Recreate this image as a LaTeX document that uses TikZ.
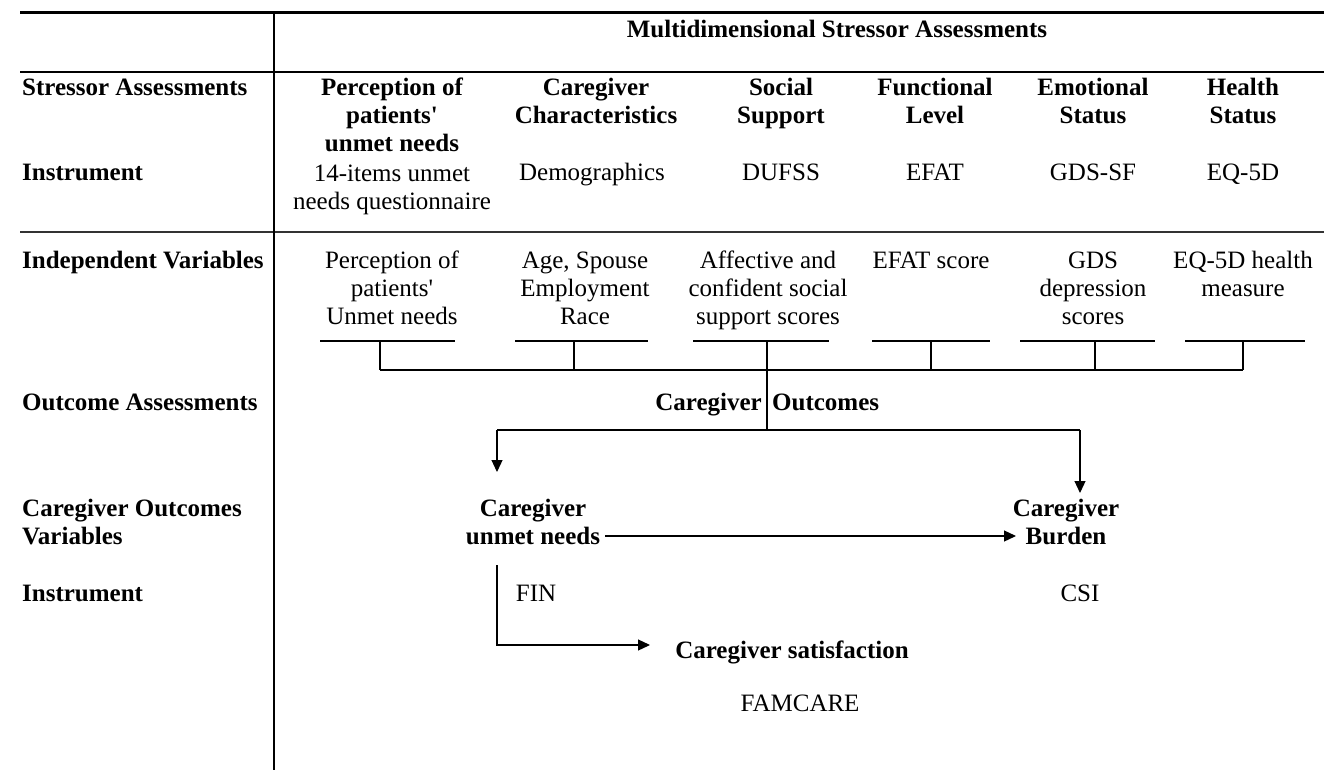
\documentclass[tikz,border=0pt]{standalone}
\usepackage{fontspec}
\setmainfont{Liberation Serif}
\newfontfamily\rawserif{Liberation Serif}[Ligatures=TeXOff]
\usetikzlibrary{arrows.meta,calc}
\newcommand{\apos}{{\rawserif'}}
\begin{document}
\begin{tikzpicture}[x=1pt,y=-1pt,
  every node/.style={inner sep=0pt, align=center, anchor=base, font=\fontsize{25}{28}\selectfont},
  hd/.style={font=\fontsize{25}{28}\selectfont\bfseries},
  rowlab/.style={anchor=base west, align=left, font=\fontsize{25}{28}\selectfont\bfseries},
  rule/.style={line width=1.2pt},
  arr/.style={line width=1.2pt, -{Triangle[length=12pt,width=11pt]}}
]
\useasboundingbox (0,0) rectangle (1324,770);
% table rules
\draw[line width=3pt] (20,13) -- (1324,13);
\draw[line width=2pt] (20,72) -- (1324,72);
\draw[line width=2.5pt, black!80] (20,232) -- (1324,232);
\draw[line width=2pt] (274,13) -- (274,770);
% heading
\node[hd] (multi) at (837,38) {Multidimensional Stressor Assessments};
% row labels
\node[rowlab] (r1) at (22,96) {Stressor Assessments};
\node[rowlab] (r2) at (22,181) {Instrument};
\node[rowlab] (r3) at (22,268) {Independent Variables};
\node[rowlab] (r4) at (22,410) {Outcome Assessments};
\node[rowlab] (r5) at (22,544) {Caregiver Outcomes\\Variables};
\node[rowlab] (r6) at (22,601) {Instrument};
% column headers
\node[hd] (c1) at (392,152) {Perception of\\patients\apos\\unmet needs};
\node[hd] (c2) at (596,124) {Caregiver\\Characteristics};
\node[hd] (c3) at (781,124) {Social\\Support};
\node[hd] (c4) at (935,124) {Functional\\Level};
\node[hd] (c5) at (1093,124) {Emotional\\Status};
\node[hd] (c6) at (1243,124) {Health\\Status};
% instruments
\node (i1) at (392,209) {14-items unmet\\needs questionnaire};
\node (i2) at (592,181) {Demographics};
\node (i3) at (781,181) {DUFSS};
\node (i4) at (935,181) {EFAT};
\node (i5) at (1093,181) {GDS-SF};
\node (i6) at (1243,181) {EQ-5D};
% independent variables
\node (v1) at (392,324) {Perception of\\patients\apos\\Unmet needs};
\node (v2) at (585,324) {Age, Spouse\\Employment\\Race};
\node (v3) at (768,324) {Affective and\\confident social\\support scores};
\node (v4) at (931,268) {EFAT score};
\node (v5) at (1093,324) {GDS\\depression\\scores};
\node (v6) at (1243,296) {EQ-5D health\\measure};
% underlines and bracket
\foreach \n/\a/\b/\t in {1/320/455/380, 2/515/648/574, 3/693/829/767, 4/872/990/931, 5/1020/1155/1095, 6/1185/1305/1243}{
  \coordinate (ul\n) at (\a,341);
  \coordinate (ur\n) at (\b,341);
  \coordinate (ut\n) at (\t,341);
  \coordinate (ub\n) at (\t,370);
  \draw[rule] (ul\n) -- (ur\n);
  \draw[rule] (ut\n) -- (ub\n);
}
\draw[rule] (ub1) -- (ub6);
% caregiver outcomes
\node[hd, anchor=base east] (co1) at (762,410) {Caregiver};
\node[hd, anchor=base west] (co2) at (772,410) {Outcomes};
\coordinate (split) at (767,430);
\coordinate (sl) at (497,430);
\coordinate (sr) at (1080,430);
\coordinate (al) at (497,472);
\coordinate (ar) at (1080,493);
\draw[rule] (ut3) -- (split);
\draw[rule] (sl) -- (sr);
\draw[arr] (sl) -- (al);
\draw[arr] (sr) -- (ar);
% outcome variables
\node[hd] (cu) at (533,544) {Caregiver\\unmet needs};
\node[hd] (cb) at (1066,544) {Caregiver\\Burden};
\coordinate (a1) at (605,536);
\coordinate (a2) at (1016,536);
\draw[arr] (a1) -- (a2);
\node (fin) at (536,601) {FIN};
\node (csi) at (1080,601) {CSI};
\node[hd] (cs) at (792,658) {Caregiver satisfaction};
\node (fam) at (800,711) {FAMCARE};
\coordinate (ds) at (497,565);
\coordinate (dc) at (497,645);
\coordinate (de) at (650,645);
\draw[arr] (ds) -- (dc) -- (de);
\end{tikzpicture}
\end{document}
